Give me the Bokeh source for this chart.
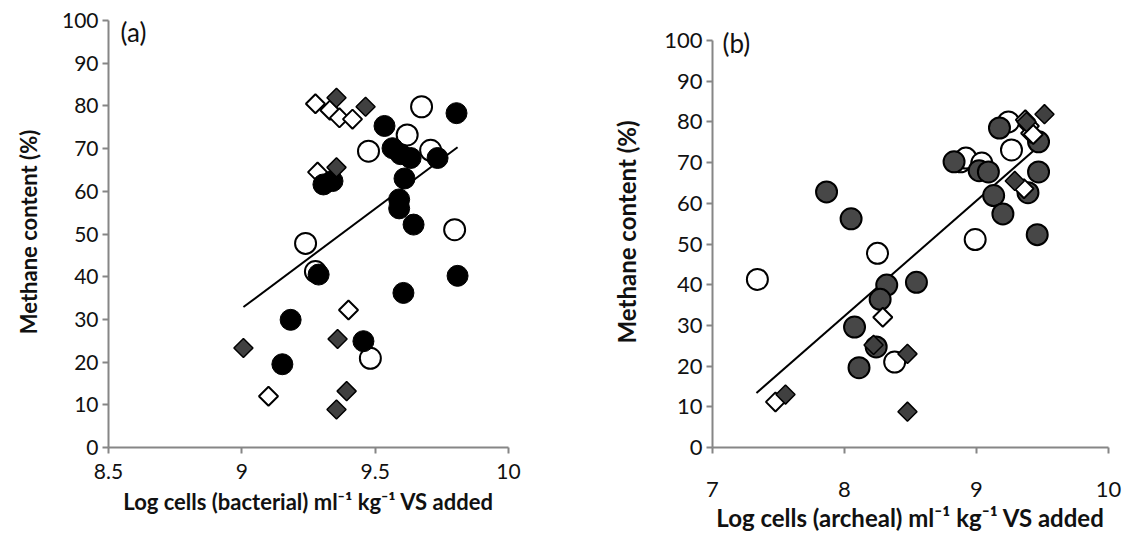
import math
from bokeh.plotting import figure
from bokeh.layouts import row
from bokeh.models import Range1d, FixedTicker, Label
from bokeh.embed import file_html
from bokeh.resources import INLINE

# ---------------- data: panel (a) bacterial ----------------
a_black_x = [9.805, 9.535, 9.565, 9.595, 9.633, 9.734, 9.61, 9.306, 9.34, 9.59, 9.59, 9.644, 9.288, 9.809, 9.606, 9.183, 9.456, 9.152]
a_black_y = [78.3, 75.3, 70.1, 68.7, 67.8, 67.8, 63.0, 61.6, 62.4, 58.1, 56.0, 52.2, 40.5, 40.2, 36.2, 29.9, 24.9, 19.5]
a_open_circ_x = [9.674, 9.62, 9.475, 9.708, 9.798, 9.239, 9.276, 9.482]
a_open_circ_y = [79.8, 73.2, 69.4, 69.6, 51.0, 47.8, 41.2, 20.9]
a_dark_dia_x = [9.355, 9.464, 9.355, 9.359, 9.006, 9.393, 9.355]
a_dark_dia_y = [81.9, 79.8, 65.6, 25.4, 23.3, 13.2, 8.9]
a_open_dia_x = [9.276, 9.33, 9.366, 9.415, 9.284, 9.40, 9.10]
a_open_dia_y = [80.5, 79.0, 77.2, 76.9, 64.5, 32.2, 12.0]
a_trend_x = [9.006, 9.809]
a_trend_y = [32.9, 70.3]
a_xticks = [8.5, 9, 9.5, 10]
a_xtick_labels = ["8.5", "9", "9.5", "10"]

# ---------------- data: panel (b) archeal ----------------
b_dark_circ_x = [9.174, 9.47, 8.83, 9.02, 9.09, 9.47, 9.39, 9.13, 9.20, 9.46, 7.864, 8.05, 8.32, 8.545, 8.27, 8.076, 8.24, 8.11]
b_dark_circ_y = [78.5, 75.1, 70.2, 68.0, 67.7, 67.7, 62.6, 61.9, 57.4, 52.3, 62.8, 56.2, 39.9, 40.6, 36.4, 29.6, 24.7, 19.6]
b_open_circ_x = [9.242, 9.265, 8.88, 8.92, 9.04, 8.99, 8.25, 7.34, 8.38]
b_open_circ_y = [80.0, 73.1, 70.2, 71.1, 69.9, 51.1, 47.7, 41.3, 21.0]
b_dark_dia_x = [9.515, 9.379, 9.29, 8.22, 8.477, 7.553, 8.477]
b_dark_dia_y = [81.9, 80.0, 65.5, 25.2, 23.0, 13.0, 8.8]
b_open_dia_x = [9.37, 9.40, 9.41, 9.43, 9.36, 8.29, 7.477]
b_open_dia_y = [80.5, 79.0, 77.2, 76.9, 63.6, 32.0, 11.2]
b_trend_x = [7.333, 9.51]
b_trend_y = [13.4, 75.1]
b_xticks = [7, 8, 9, 10]
b_xtick_labels = ["7", "8", "9", "10"]

y_ticks = [0, 10, 20, 30, 40, 50, 60, 70, 80, 90, 100]
y_label = "Methane content (%)"
a_xlabel = "Log cells (bacterial) ml\u207b\u00b9 kg\u207b\u00b9 VS added"
b_xlabel = "Log cells (archeal) ml\u207b\u00b9 kg\u207b\u00b9 VS added"

FONT = "Lato"
AXC = "#868686"
FRAME_H = 431          # both frames share top/bottom (row aligns borders)
A_PX_PER_UNIT = 4.27   # panel (a): 100 near frame top
B_PX_PER_UNIT = 4.07   # panel (b): 100 sits lower, axis bounded to 0..100


def style(p, xticks, xlabels, tick_fs, title_fs, lab_stand, title_stand, ytitle_stand):
    for ax in (p.xaxis[0], p.yaxis[0]):
        ax.axis_line_color = AXC
        ax.axis_line_width = 2
        ax.major_tick_line_color = AXC
        ax.major_tick_line_width = 2
        ax.major_tick_out = 6
        ax.major_tick_in = 0
        ax.minor_tick_line_color = None
        ax.major_label_text_font = FONT
        ax.major_label_text_font_size = tick_fs
        ax.major_label_text_color = "#111111"
        ax.axis_label_text_font = FONT
        ax.axis_label_text_font_size = title_fs
        ax.axis_label_text_font_style = "bold"
        ax.axis_label_text_color = "#111111"
    p.xaxis[0].ticker = FixedTicker(ticks=xticks)
    p.xaxis[0].major_label_overrides = {t: l for t, l in zip(xticks, xlabels)}
    p.yaxis[0].ticker = FixedTicker(ticks=y_ticks)
    p.yaxis[0].bounds = (0, 100)
    p.xaxis[0].major_label_standoff = lab_stand
    p.xaxis[0].axis_label_standoff = title_stand
    p.yaxis[0].major_label_standoff = 4
    p.yaxis[0].axis_label_standoff = ytitle_stand
    p.xgrid.grid_line_color = None
    p.ygrid.grid_line_color = None
    p.outline_line_color = None


# ---------------- panel (a) ----------------
pa = figure(title=None, frame_width=400, frame_height=FRAME_H, output_backend="svg", toolbar_location=None,
            x_range=Range1d(8.5, 10), y_range=Range1d(0, FRAME_H / A_PX_PER_UNIT),
            min_border_left=108, min_border_right=60, min_border_top=16, min_border_bottom=92,
            x_axis_label=a_xlabel, y_axis_label=y_label)
style(pa, a_xticks, a_xtick_labels, "21px", "22px", 10, 6, 17)
pa.line(a_trend_x, a_trend_y, line_color="black", line_width=2)
pa.scatter(a_open_dia_x, a_open_dia_y, marker="square", angle=math.pi / 4, size=13.5,
           fill_color="white", line_color="black", line_width=2)
pa.scatter(a_open_circ_x, a_open_circ_y, marker="circle", size=21,
           fill_color="white", line_color="black", line_width=2)
pa.scatter(a_black_x, a_black_y, marker="circle", size=21,
           fill_color="black", line_color="black", line_width=1)
pa.scatter(a_dark_dia_x, a_dark_dia_y, marker="square", angle=math.pi / 4, size=13.5,
           fill_color="#404040", line_color="black", line_width=1.5)
pa.add_layout(Label(x=8.545, y=97.2, text="(a)", text_font=FONT, text_font_size="26px",
                    text_baseline="middle", text_color="#111111"))

# ---------------- panel (b) ----------------
pb = figure(title=None, frame_width=396, frame_height=FRAME_H, output_backend="svg", toolbar_location=None,
            x_range=Range1d(7, 10), y_range=Range1d(0, FRAME_H / B_PX_PER_UNIT),
            min_border_left=144, min_border_right=20, min_border_top=16, min_border_bottom=92,
            x_axis_label=b_xlabel, y_axis_label=y_label)
style(pb, b_xticks, b_xtick_labels, "22px", "24px", 28, 3, 20)
pb.line(b_trend_x, b_trend_y, line_color="black", line_width=2)
pb.scatter(b_open_circ_x, b_open_circ_y, marker="circle", size=21,
           fill_color="white", line_color="black", line_width=2)
pb.scatter(b_dark_circ_x, b_dark_circ_y, marker="circle", size=21,
           fill_color="#474747", line_color="black", line_width=2)
pb.scatter(b_open_dia_x, b_open_dia_y, marker="square", angle=math.pi / 4, size=13.5,
           fill_color="white", line_color="black", line_width=2)
pb.scatter(b_dark_dia_x, b_dark_dia_y, marker="square", angle=math.pi / 4, size=13.5,
           fill_color="#404040", line_color="black", line_width=1.5)
pb.add_layout(Label(x=7.076, y=99.3, text="(b)", text_font=FONT, text_font_size="26px",
                    text_baseline="middle", text_color="#111111"))

layout = row(pa, pb)
open("out.html", "w").write(file_html(layout, INLINE))
